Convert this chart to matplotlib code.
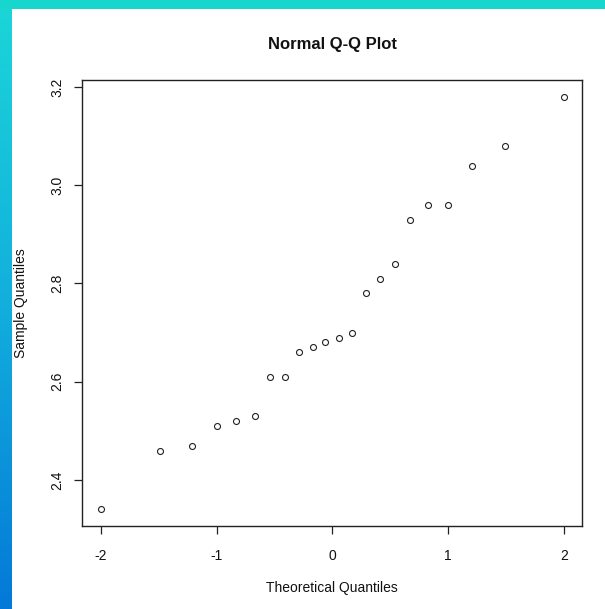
import numpy as np
import matplotlib
matplotlib.use("Agg")
import matplotlib.pyplot as plt
from matplotlib.patches import Rectangle
from matplotlib.colors import LinearSegmentedColormap

# Data
theoretical = [-2.00, -1.49, -1.21, -1.00, -0.83, -0.67, -0.54, -0.41, -0.29, -0.17, -0.06,
               0.06, 0.17, 0.29, 0.41, 0.54, 0.67, 0.83, 1.00, 1.21, 1.49, 2.00]
sample = [2.34, 2.46, 2.47, 2.51, 2.52, 2.53, 2.61, 2.61, 2.66, 2.67, 2.68,
          2.69, 2.70, 2.78, 2.81, 2.84, 2.93, 2.96, 2.96, 3.04, 3.08, 3.18]
x_ticks = [-2, -1, 0, 1, 2]
y_ticks = [2.4, 2.6, 2.8, 3.0, 3.2]
y_tick_labels = ["2.4", "2.6", "2.8", "3.0", "3.2"]

plt.rcParams['font.family'] = ['Liberation Sans', 'DejaVu Sans']

W, H = 605, 609
fig = plt.figure(figsize=(W / 100, H / 100), dpi=100)
fig.patch.set_facecolor('white')

# decorative frame: top cyan band and left gradient band
fig.patches.append(Rectangle((0, 1 - 9 / H), 1, 9 / H, transform=fig.transFigure,
                             facecolor='#17D6CE', edgecolor='none', zorder=0))
band = fig.add_axes([0, 0, 12 / W, 1 - 9 / H])
band.set_axis_off()
cmap = LinearSegmentedColormap.from_list('band', ['#1BD5D8', '#12AEDD', '#0479D8'])
band.imshow(np.linspace(0, 1, 256).reshape(-1, 1), aspect='auto', cmap=cmap,
            extent=[0, 1, 0, 1], origin='upper')

left, right, top, bottom = 82.3, 582.3, 80.3, 526.0
ax = fig.add_axes([left / W, (H - bottom) / H, (right - left) / W, (bottom - top) / H])
ax.plot(theoretical, sample, linestyle='none', marker='o', markersize=4.3,
        markerfacecolor='none', markeredgecolor='#222222', markeredgewidth=0.8)

ax.set_xlim(-2.16, 2.16)
ax.set_ylim(2.3064, 3.2136)
ax.set_xticks(x_ticks)
ax.set_xticklabels([str(t) for t in x_ticks])
ax.set_yticks(y_ticks)
ax.set_yticklabels(y_tick_labels, rotation=90, va='center')

for s in ax.spines.values():
    s.set_linewidth(1.0)
    s.set_color('#222222')
ax.tick_params(axis='both', length=5.8, width=0.9, color='#222222',
               labelsize=10, labelcolor='#111111')
ax.tick_params(axis='x', pad=10.5)
ax.tick_params(axis='y', pad=7)

fig.text((left + right) / 2 / W, 1 - 45 / H, 'Normal Q-Q Plot', ha='center', va='center',
         fontsize=12, fontweight='bold', color='#111111')
fig.text((left + right) / 2 / W, 1 - 588 / H, 'Theoretical Quantiles', ha='center', va='center',
         fontsize=10, color='#111111')
fig.text(21 / W, 1 - 303 / H, 'Sample Quantiles', ha='center', va='center',
         rotation=90, fontsize=10, color='#111111')

fig.savefig('out.png', dpi=100)
